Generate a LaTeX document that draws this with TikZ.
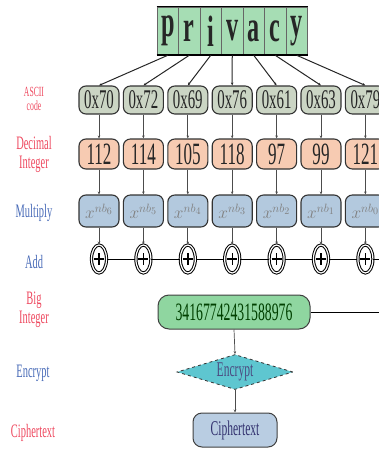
\documentclass[tikz,border=0pt]{standalone}
\usepackage{fontspec}
\setmainfont{Liberation Serif}[FakeStretch=0.55]
\usetikzlibrary{shapes.geometric,arrows.meta}
\definecolor{lblred}{HTML}{EE4A60}
\definecolor{lblblue}{HTML}{4A6CB8}
\definecolor{cellgreen}{HTML}{A6DDB4}
\definecolor{asciifill}{HTML}{CBD5C4}
\definecolor{decfill}{HTML}{F7CBB2}
\definecolor{mulfill}{HTML}{B3C9DE}
\definecolor{bigfill}{HTML}{8FD6A0}
\definecolor{encfill}{HTML}{5EC6D0}
\definecolor{ciphfill}{HTML}{B9CDE2}
\tikzset{
  lbl/.style={align=center, font=\fontsize{19}{19}\selectfont, inner sep=0pt},
  cell/.style={draw=black!60, line width=0.6pt, fill=cellgreen, minimum width=21.5pt, minimum height=48pt, inner sep=0pt, font=\fontsize{44}{44}\selectfont\bfseries, text=black!85},
  rbox/.style={draw=black!80, line width=1.1pt, rounded corners=7pt, minimum width=40pt, inner sep=0pt},
  asciibox/.style={rbox, fill=asciifill, minimum height=28pt, font=\fontsize{27}{27}\selectfont, text=black!85},
  decbox/.style={rbox, fill=decfill, minimum height=30pt, font=\fontsize{31}{31}\selectfont, text=black!85},
  mulbox/.style={rbox, fill=mulfill, minimum height=32pt, text=black!50, font=\LARGE},
  addnode/.style={ellipse, draw=black, line width=1pt, double=white, double distance=1.2pt, fill=white, minimum width=15pt, minimum height=28pt, inner sep=0pt},
  conn/.style={draw=black!70, line width=0.7pt, -{Stealth[length=3pt,width=2.5pt]}},
  topconn/.style={draw=black!85, line width=1pt, -{Stealth[length=3pt,width=2.5pt]}},
}
\begin{document}
\begin{tikzpicture}[x=1pt,y=-1pt]
\useasboundingbox (0,0) rectangle (379,452);
% privacy cells
\foreach \ch [count=\i from 0] in {p,r,i,v,a,c,y} {
  \node[cell] (c\i) at ({157+21.5*(\i+0.5)},31) {\ch};
}
\draw[line width=1.6pt] (c0.north west) -- (c6.north east);
\draw[line width=1.6pt] (c0.south west) -- (c6.south east);
% labels
\node[lbl, text=lblred, font=\fontsize{14}{14}\selectfont] (l1) at (34,99) {ASCII\\code};
\node[lbl, text=lblred] (l2) at (34,154) {Decimal\\Integer};
\node[lbl, text=lblblue] (l3) at (34,213) {Multiply};
\node[lbl, text=lblblue] (l4) at (34,262) {Add};
\node[lbl, text=lblred] (l5) at (34,310) {Big\\Integer};
\node[lbl, text=lblblue] (l6) at (33,373) {Encrypt};
\node[lbl, text=lblred] (l7) at (33,433) {Ciphertext};
% columns
\foreach \hx/\dv/\k [count=\i from 0] in {0x70/112/6,0x72/114/5,0x69/105/4,0x76/118/3,0x61/97/2,0x63/99/1,0x79/121/0} {
  \pgfmathsetmacro{\cx}{99+44.4*\i}
  \node[asciibox] (a\i) at (\cx,100) {\hx};
  \node[decbox] (d\i) at (\cx,154) {\dv};
  \node[mulbox] (m\i) at (\cx,211) {$x^{n b_{\k}}$};
  \node[addnode] (p\i) at (\cx,259) {};
  \draw[line width=1.4pt] (p\i.center) +(-5,0) -- +(5,0) (p\i.center) +(0,-6) -- +(0,6);
  \draw[topconn] (c\i.south) -- (a\i.north);
  \draw[conn] (a\i.south) -- (d\i.north);
  \draw[conn] (d\i.south) -- (m\i.north);
  \draw[conn] (m\i.south) -- (p\i.north);
}
\coordinate (sumend) at (379,259);
\draw[line width=1pt] (p0.east) -- (p1.west) (p1.east) -- (p2.west) (p2.east) -- (p3.west) (p3.east) -- (p4.west) (p4.east) -- (p5.west) (p5.east) -- (p6.west) (p6.east) -- (sumend);
% big integer
\node[draw=black!75, line width=1pt, fill=bigfill, rounded corners=11pt, minimum width=152pt, minimum height=34pt, inner sep=0pt, font=\fontsize{25}{25}\selectfont, text=green!25!black] (big) at (234,312) {34167742431588976};
\coordinate (bigend) at (379,312);
\draw[line width=1pt] (big.east) -- (bigend);
\node[diamond, aspect=3.3, draw=black!80, dashed, line width=0.8pt, fill=encfill, minimum width=116pt, minimum height=35pt, inner sep=0pt, font=\fontsize{21}{21}\selectfont, text=blue!30!black!70] (enc) at (235,372) {Encrypt};
\node[draw=black!75, line width=1pt, fill=ciphfill, rounded corners=9pt, minimum width=84pt, minimum height=34pt, inner sep=0pt, font=\fontsize{21}{21}\selectfont, text=blue!30!black!80] (ciph) at (235,430) {Ciphertext};
\draw[conn] (big.south) -- (enc.north);
\draw[conn] (enc.south) -- (ciph.north);
\end{tikzpicture}
\end{document}
